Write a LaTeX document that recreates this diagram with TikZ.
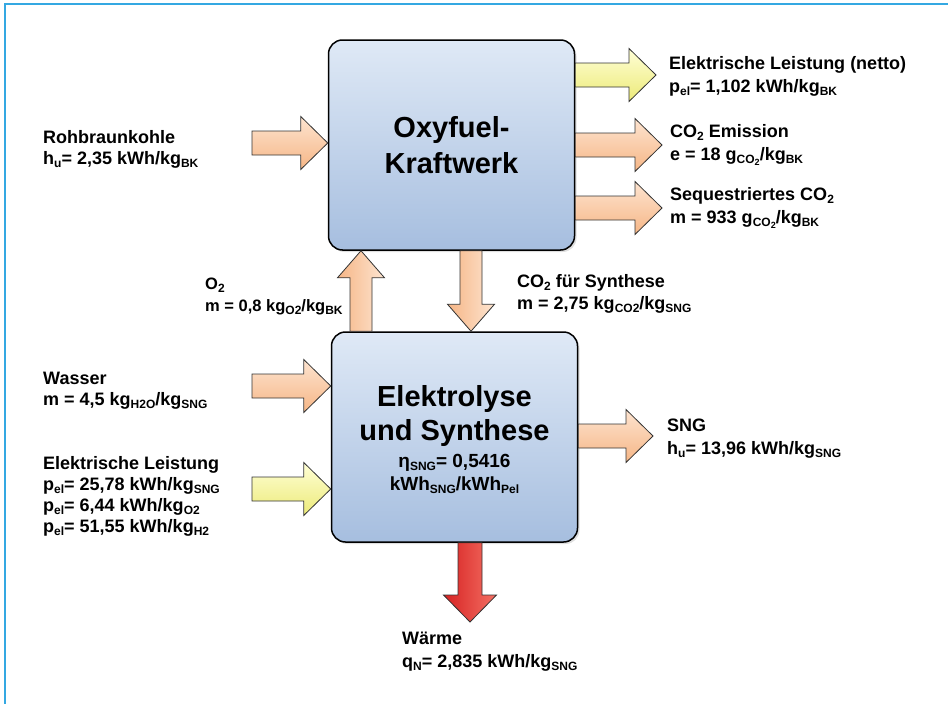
\documentclass[tikz,border=0pt]{standalone}
\usepackage{fontspec}
\setmainfont{Liberation Sans}
\usetikzlibrary{calc,positioning,shadows}

\definecolor{frameblue}{RGB}{52,168,226}
\definecolor{boxtop}{RGB}{223,233,246}
\definecolor{boxbottom}{RGB}{166,190,223}
\definecolor{peachlight}{RGB}{253,228,208}
\definecolor{peachdark}{RGB}{246,182,134}
\definecolor{yellowlight}{RGB}{255,255,214}
\definecolor{yellowdark}{RGB}{236,234,120}
\definecolor{reddark}{RGB}{214,34,34}
\definecolor{redlight}{RGB}{244,112,100}

\newcommand{\ix}[1]{\raisebox{-3pt}{\fontsize{12}{12}\selectfont #1}}
\newcommand{\ixx}[1]{\raisebox{-2pt}{\fontsize{9}{9}\selectfont #1}}

\def\fashaft{12pt}
\def\fawing{26.5pt}
\def\falen{27pt}
% block arrow from #2 (tail) to #3 (tip)
\newcommand{\fatarrow}[3][]{%
\coordinate (fa-a) at (#2);
\coordinate (fa-b) at (#3);
\coordinate (fa-h) at ($(fa-b)!\falen!(fa-a)$);
\path[fatarrow,#1] ($(fa-a)!\fashaft!90:(fa-b)$) -- ($(fa-h)!\fashaft!-90:(fa-a)$)
  -- ($(fa-h)!\fawing!-90:(fa-a)$) -- (fa-b) -- ($(fa-h)!\fawing!90:(fa-a)$)
  -- ($(fa-h)!\fashaft!90:(fa-a)$) -- ($(fa-a)!\fashaft!-90:(fa-b)$) -- cycle;}

\tikzset{
frameline/.style={draw=frameblue,line width=2.5pt},
blockbox/.style={draw=black,line width=1.5pt,rounded corners=14pt,top color=boxtop,bottom color=boxbottom,
minimum width=246pt,minimum height=210pt,inner sep=0pt,
drop shadow={opacity=0.25,shadow xshift=2pt,shadow yshift=-2pt}},
boxtitle/.style={font=\fontsize{29}{36}\selectfont\bfseries,align=center,inner sep=0pt},
evaltext/.style={font=\fontsize{19}{23}\selectfont\bfseries,align=center,inner sep=0pt},
lefttext/.style={font=\fontsize{18}{21}\selectfont\bfseries,align=left,inner sep=0pt,anchor=north west},
righttext/.style={font=\fontsize{18}{23}\selectfont\bfseries,align=left,inner sep=0pt,anchor=north west},
fatarrow/.style={draw=black!80,line width=0.8pt,line join=miter},
slim/.code={\def\fashaft{11pt}\def\fawing{23.5pt}},
peachflow/.style={top color=peachlight,bottom color=peachdark},
peachrise/.style={left color=peachdark,right color=peachlight},
yellowflow/.style={top color=yellowlight,bottom color=yellowdark},
heatflow/.style={left color=reddark,right color=redlight}
}

\begin{document}
\begin{tikzpicture}[x=1pt,y=-1pt]
\useasboundingbox (0,0) rectangle (948,704);
\draw[frameline] (5,704) -- (5,4) -- (948,4);

\node[blockbox,boxtitle] (oxy) at (451.5,145) {Oxyfuel-\\Kraftwerk};
\node[blockbox] (ely) at (454.5,437) {};
\node[boxtitle,font=\fontsize{29}{34}\selectfont\bfseries,anchor=north] (elyTitle) at (454.5,385) {Elektrolyse\\und Synthese};
\node[evaltext,below=8pt of elyTitle] (elyEta) {η\ix{SNG}= 0,5416\\kWh\ix{SNG}/kWh\ix{Pel}};

% streams
\node[lefttext] (rohLabel) at (43,130) {Rohbraunkohle\\h\ix{u}= 2,35 kWh/kg\ix{BK}};
\node[righttext] (elecOutLabel) at (669,56) {Elektrische Leistung (netto)\\p\ix{el}= 1,102 kWh/kg\ix{BK}};
\node[righttext] (co2EmLabel) at (670,124) {CO\ix{2} Emission\\e = 18 g\ix{CO\ixx{2}}/kg\ix{BK}};
\node[righttext] (seqLabel) at (670,187) {Sequestriertes CO\ix{2}\\m = 933 g\ix{CO\ixx{2}}/kg\ix{BK}};
\node[righttext,font=\fontsize{16.5}{22}\selectfont\bfseries] (o2Label) at (205,278) {O\ix{2}\\m = 0,8 kg\ix{O2}/kg\ix{BK}};
\node[righttext,font=\fontsize{18}{22}\selectfont\bfseries] (co2SynLabel) at (517,274) {CO\ix{2} für Synthese\\m = 2,75 kg\ix{CO2}/kg\ix{SNG}};
\node[lefttext] (wasserLabel) at (43,372) {Wasser\\m = 4,5 kg\ix{H2O}/kg\ix{SNG}};
\node[lefttext] (elecInLabel) at (43,456) {Elektrische Leistung\\p\ix{el}= 25,78 kWh/kg\ix{SNG}\\p\ix{el}= 6,44 kWh/kg\ix{O2}\\p\ix{el}= 51,55 kWh/kg\ix{H2}};
\node[righttext] (sngLabel) at (667,419) {SNG\\h\ix{u}= 13,96 kWh/kg\ix{SNG}};
\node[righttext] (waermeLabel) at (402,632) {Wärme\\q\ix{N}= 2,835 kWh/kg\ix{SNG}};

\coordinate (rohTail) at (252,143);
\coordinate (elecOutTip) at (656,75);
\coordinate (co2EmTip) at (662,145);
\coordinate (seqTip) at (662,208);
\coordinate (o2Axis) at (361,0);
\coordinate (co2SynAxis) at (471,0);
\coordinate (wasserTail) at (252,386);
\coordinate (elecInTail) at (252,489);
\coordinate (sngTip) at (653,436);
\coordinate (waermeTip) at (470,622);

\fatarrow[peachflow]{rohTail}{rohTail -| oxy.west}
\fatarrow[yellowflow]{elecOutTip -| oxy.east}{elecOutTip}
\fatarrow[peachflow]{co2EmTip -| oxy.east}{co2EmTip}
\fatarrow[peachflow]{seqTip -| oxy.east}{seqTip}
\fatarrow[peachrise,slim]{o2Axis |- ely.north}{o2Axis |- oxy.south}
\fatarrow[peachrise,slim]{co2SynAxis |- oxy.south}{co2SynAxis |- ely.north}
\fatarrow[peachflow]{wasserTail}{wasserTail -| ely.west}
\fatarrow[yellowflow]{elecInTail}{elecInTail -| ely.west}
\fatarrow[peachflow]{sngTip -| ely.east}{sngTip}
\fatarrow[heatflow]{waermeTip |- ely.south}{waermeTip}
\end{tikzpicture}
\end{document}
